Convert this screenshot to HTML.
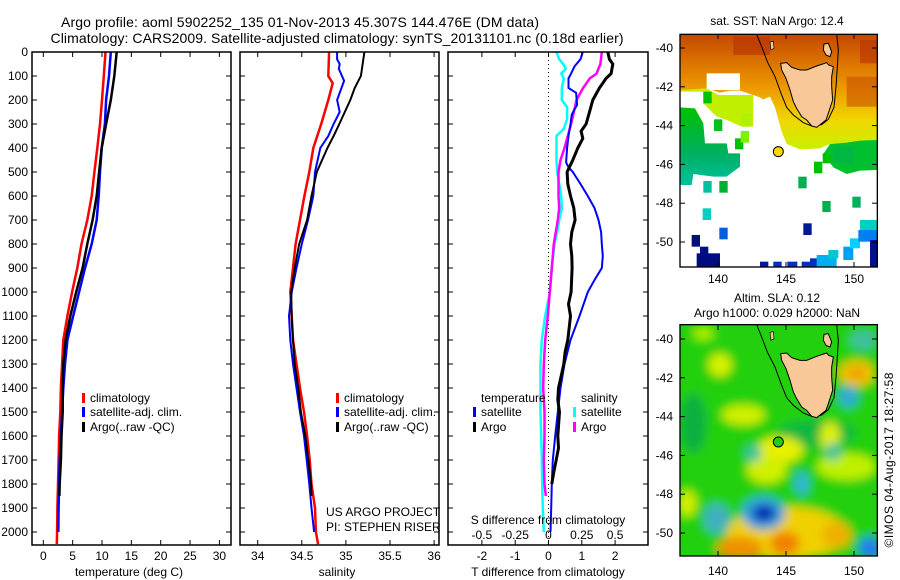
<!DOCTYPE html>
<html><head><meta charset="utf-8"><style>
html,body{margin:0;padding:0;background:#fff;}
svg{display:block;font-family:"Liberation Sans",Arial,sans-serif;}
</style></head><body>
<svg id="fig" width="900" height="580" viewBox="0 0 900 580" xmlns="http://www.w3.org/2000/svg">
<defs>
<clipPath id="clipTop"><rect x="60" y="43" width="592" height="698"/></clipPath>
<clipPath id="clipBot"><rect x="60" y="104" width="592" height="694"/></clipPath>
<linearGradient id="warm" x1="0" y1="43" x2="0" y2="390" gradientUnits="userSpaceOnUse">
<stop offset="0" stop-color="#c44800"/><stop offset="0.25" stop-color="#dc7400"/><stop offset="0.5" stop-color="#eea000"/><stop offset="0.75" stop-color="#f0d800"/><stop offset="1" stop-color="#c8f000"/></linearGradient>
<linearGradient id="westgreen" x1="0" y1="260" x2="0" y2="495" gradientUnits="userSpaceOnUse">
<stop offset="0" stop-color="#00c000"/><stop offset="0.6" stop-color="#00b060"/><stop offset="1" stop-color="#00c0a0"/></linearGradient>
<filter id="blur" x="-20%" y="-20%" width="140%" height="140%"><feGaussianBlur stdDeviation="14"/></filter>
</defs>
<rect x="0" y="0" width="900" height="580" fill="#fff"/>

<text x="300" y="27" font-size="14" text-anchor="middle" textLength="478">Argo profile: aoml 5902252_135 01-Nov-2013 45.307S 144.476E (DM data)</text>
<text x="337" y="43" font-size="14" text-anchor="middle" textLength="573">Climatology: CARS2009. Satellite-adjusted climatology: synTS_20131101.nc (0.18d earlier)</text>

<g id="p1"></g>
<g id="p2"></g>
<g id="p3"></g>

<g font-size="12">
<rect x="82" y="393" width="3" height="10" fill="#f00"/><text x="90" y="402">climatology</text>
<rect x="82" y="407" width="3" height="10" fill="#00f"/><text x="90" y="416">satellite-adj. clim.</text>
<rect x="82" y="422" width="3" height="10" fill="#000"/><text x="90" y="431">Argo(..raw -QC)</text>
</g>
<g font-size="12">
<rect x="336" y="393" width="3" height="10" fill="#f00"/><text x="344" y="402">climatology</text>
<rect x="336" y="407" width="3" height="10" fill="#00f"/><text x="344" y="416">satellite-adj. clim.</text>
<rect x="336" y="422" width="3" height="10" fill="#000"/><text x="344" y="431">Argo(..raw -QC)</text>
</g>
<text x="326" y="516" font-size="12">US ARGO PROJECT</text>
<text x="326" y="531" font-size="12">PI: STEPHEN RISER</text>
<g font-size="12">
<text x="481" y="402">temperature</text>
<rect x="473" y="407" width="3" height="10" fill="#00f"/><text x="481" y="416">satellite</text>
<rect x="473" y="422" width="3" height="10" fill="#000"/><text x="481" y="431">Argo</text>
<text x="581" y="402">salinity</text>
<rect x="573" y="407" width="3" height="10" fill="#0ff"/><text x="581" y="416">satellite</text>
<rect x="573" y="422" width="3" height="10" fill="#f0f"/><text x="581" y="431">Argo</text>
</g>
<text x="548" y="524" font-size="12" text-anchor="middle">S difference from climatology</text>

<g transform="translate(660,20) scale(0.33333)">
 <g clip-path="url(#clipTop)">
  <rect x="60" y="43" width="592" height="698" fill="#fff"/>
  <polygon fill="url(#warm)" points="60,43 652,43 652,365 600,365 560,368 510,372 480,385 420,388 380,372 362,335 340,262 300,232 240,212 210,212 180,218 140,205 60,212"/>
  <rect x="220" y="50" width="110" height="55" fill="#b83000" opacity="0.6"/>
  <rect x="560" y="170" width="90" height="90" fill="#c04000" opacity="0.5"/>
  <rect x="600" y="60" width="52" height="70" fill="#b83000" opacity="0.6"/>
  <rect x="140" y="160" width="100" height="50" fill="#fff"/>
  <polygon fill="#c0f000" points="60,210 140,205 175,225 280,225 280,320 245,320 200,300 170,290 130,250 60,260"/>
  <rect x="60" y="215" width="70" height="45" fill="#fff"/>
  <polygon fill="#fff" points="170,290 200,300 240,320 280,320 280,250 330,230 345,262 365,335 380,372 420,390 480,390 480,380 480,440 300,500 250,480 240,400 205,400 200,370 135,370 130,310"/>
  <polygon fill="url(#westgreen)" points="60,262 105,265 130,310 135,370 200,370 205,400 240,400 240,440 200,470 160,470 100,462 95,495 60,495"/>
  <polygon fill="#00c030" points="510,372 560,368 600,362 652,360 652,450 600,452 560,462 520,442 490,402"/>
  <rect x="520" y="380" width="60" height="50" fill="#00b050" opacity="0.6"/>
  <g id="sqs"></g>
 </g>
 <polyline fill="none" stroke="#000" stroke-width="3" points="290,43 305,80 322,125 345,170 365,225 380,262 400,285 430,308 455,318 485,314 505,298 522,262 528,200 532,140 535,90 530,43"/>
 <g id="tasTop"></g>
 <circle cx="355" cy="395" r="15" fill="#f5d800" stroke="#000" stroke-width="3"/>
 <rect x="60" y="43" width="592" height="698" fill="none" stroke="#000" stroke-width="4"/>
</g>

<g transform="translate(660,290) scale(0.33333)">
 <g clip-path="url(#clipBot)">
  <rect x="60" y="104" width="592" height="694" fill="#20d010"/>
  <g filter="url(#blur)">
   <rect x="60" y="104" width="592" height="694" fill="#20d010"/>
   <ellipse cx="100" cy="400" rx="40" ry="90" fill="#10b040"/>
   <ellipse cx="470" cy="430" rx="120" ry="40" fill="#10b840"/>
   <ellipse cx="180" cy="225" rx="35" ry="35" fill="#d8f000"/>
   <ellipse cx="130" cy="130" rx="30" ry="20" fill="#b0f000"/>
   <ellipse cx="250" cy="375" rx="65" ry="30" fill="#d0f000"/>
   <ellipse cx="360" cy="480" rx="70" ry="40" fill="#e8f000"/>
   <ellipse cx="320" cy="540" rx="60" ry="40" fill="#d0f000"/>
   <ellipse cx="510" cy="440" rx="30" ry="45" fill="#e0f000"/>
   <ellipse cx="590" cy="250" rx="55" ry="40" fill="#f0c000"/>
   <ellipse cx="590" cy="250" rx="20" ry="15" fill="#f09000"/>
   <ellipse cx="560" cy="530" rx="90" ry="40" fill="#c0f000"/>
   <ellipse cx="80" cy="640" rx="30" ry="40" fill="#d0f000"/>
   <ellipse cx="380" cy="730" rx="180" ry="80" fill="#f0d000"/>
   <ellipse cx="240" cy="775" rx="70" ry="35" fill="#f09000"/>
   <ellipse cx="375" cy="760" rx="45" ry="35" fill="#f08000"/>
   <ellipse cx="530" cy="735" rx="45" ry="40" fill="#f0b000"/>
   <ellipse cx="310" cy="670" rx="65" ry="50" fill="#30a0e0"/>
   <ellipse cx="312" cy="670" rx="35" ry="25" fill="#0020b0"/>
   <ellipse cx="425" cy="580" rx="20" ry="35" fill="#30b0e0"/>
   <ellipse cx="565" cy="320" rx="28" ry="32" fill="#30a8d8"/>
   <ellipse cx="520" cy="485" rx="22" ry="28" fill="#40c0a0"/>
   <ellipse cx="170" cy="685" rx="40" ry="45" fill="#40b0c0"/>
   <ellipse cx="630" cy="775" rx="35" ry="35" fill="#2080f0"/>
   <ellipse cx="610" cy="150" rx="40" ry="30" fill="#40c0a0"/>
   <ellipse cx="280" cy="490" rx="25" ry="25" fill="#40c0a0"/>
  </g>
 </g>
 <polyline fill="none" stroke="#000" stroke-width="3" transform="translate(0,61)" points="290,43 305,80 322,125 345,170 365,225 380,262 400,285 430,308 455,318 485,314 505,298 522,262 528,200 532,140 535,90 530,43"/>
 <g id="tasBot" transform="translate(0,61)"></g>
 <circle cx="355" cy="456" r="15" fill="#20d010" stroke="#000" stroke-width="3"/>
 <rect x="60" y="104" width="592" height="694" fill="none" stroke="#000" stroke-width="4"/>
</g>

<g id="mapaxes" font-size="12"></g>
<text x="777" y="25" font-size="12" text-anchor="middle">sat. SST: NaN Argo: 12.4</text>
<text x="777" y="302" font-size="12" text-anchor="middle">Altim. SLA: 0.12</text>
<text x="777" y="317" font-size="12" text-anchor="middle">Argo h1000: 0.029 h2000: NaN</text>
<text x="0" y="0" font-size="12" text-anchor="middle" transform="translate(893,460) rotate(-90)" textLength="175">©IMOS 04-Aug-2017 18:27:58</text>
</svg>

<script>
// ---------- DATA ----------
var depthTicks = [0,100,200,300,400,500,600,700,800,900,1000,1100,1200,1300,1400,1500,1600,1700,1800,1900,2000];
var tempTicks = [0,5,10,15,20,25,30];
var salTicks = [34,34.5,35,35.5,36];
var tdiffTicks = [-2,-1,0,1,2];
var sdiffTickLabels = ["-0.5","-0.25","0","0.25","0.5"];
var sdiffTicks = [-0.5,-0.25,0,0.25,0.5];

var climTDepth = [0,100,200,300,400,500,600,700,800,900,1000,1100,1200,1300,1400,1500,1600,1700,1800,1900,2000,2050];
var climT = [10.6,10.3,10.0,9.66,9.2,8.7,8.25,7.5,6.5,5.8,4.9,4.1,3.4,3.2,3.0,2.9,2.7,2.6,2.5,2.4,2.35,2.3];
var satTDepth = [0,100,200,300,400,500,600,700,800,900,1000,1100,1200,1300,1400,1500,1600,1700,1800,1900,2000];
var satT = [11.5,11.2,10.7,10.5,9.95,9.66,9.44,9.1,8.25,7.1,6.1,5.1,4.1,3.7,3.4,3.2,3.0,2.8,2.7,2.6,2.55];
var argoTDepth = [0,100,200,300,400,500,600,700,800,900,1000,1100,1200,1300,1400,1500,1600,1700,1800,1850];
var argoT = [12.5,12.1,11.5,10.7,9.95,9.5,9.1,8.4,7.5,6.7,5.6,4.6,3.8,3.4,3.3,3.3,3.1,3.0,2.8,2.75];

var climSDepth = [0,100,130,200,300,400,500,600,700,800,900,1000,1100,1200,1300,1400,1500,1600,1700,1800,1900,2000,2050];
var climS = [34.81,34.80,34.85,34.80,34.72,34.63,34.585,34.53,34.48,34.43,34.40,34.37,34.385,34.40,34.44,34.48,34.525,34.56,34.59,34.61,34.65,34.66,34.685];
var satSDepth = [0,30,50,70,120,200,250,300,350,400,500,600,700,800,900,1000,1100,1200,1300,1400,1500,1600,1700,1800,1900,2000];
var satS = [34.90,34.90,34.93,34.92,34.98,34.90,34.93,34.86,34.80,34.71,34.65,34.63,34.57,34.50,34.44,34.385,34.355,34.37,34.40,34.44,34.48,34.525,34.555,34.585,34.61,34.64];
var argoSDepth = [0,100,150,200,300,350,400,500,600,700,800,900,1000,1100,1200,1300,1400,1500,1600,1700,1800,1850];
var argoS = [35.21,35.17,35.10,35.05,34.925,34.86,34.79,34.67,34.61,34.56,34.47,34.42,34.38,34.385,34.40,34.42,34.46,34.49,34.54,34.575,34.605,34.61];

var satTdiffDepth = [0,30,60,90,110,150,170,220,260,300,350,400,460,480,500,550,600,650,700,750,800,850,900,950,1000,1100,1200,1300,1400,1500,1600,1700,1800,1900,2000];
var satTdiff = [1.03,0.96,0.78,0.68,0.6,0.6,0.83,0.86,0.7,0.66,0.6,0.56,0.53,0.6,0.73,0.96,1.18,1.38,1.5,1.58,1.6,1.63,1.6,1.38,1.18,0.93,0.66,0.48,0.36,0.28,0.2,0.13,0.1,0.08,0.06];
var argoTdiffDepth = [0,30,50,90,110,150,200,250,300,330,360,400,450,500,550,600,650,700,750,800,850,900,1000,1050,1100,1200,1250,1300,1350,1400,1450,1500,1600,1650,1700,1750,1800];
var argoTdiff = [1.78,1.83,1.93,1.88,1.73,1.53,1.33,1.23,1.13,0.98,1.03,0.88,0.73,0.56,0.58,0.66,0.76,0.8,0.7,0.66,0.7,0.71,0.68,0.6,0.66,0.58,0.5,0.46,0.38,0.3,0.28,0.33,0.28,0.3,0.23,0.16,0.1];
var argoSdiffDepth = [0,50,90,110,150,200,250,300,350,400,450,500,600,650,700,800,900,1000,1100,1200,1300,1400,1500,1600,1700,1800,1850];
var argoSdiff = [0.40,0.39,0.36,0.31,0.26,0.21,0.19,0.17,0.145,0.12,0.09,0.075,0.075,0.08,0.07,0.04,0.025,0.01,-0.005,-0.025,-0.035,-0.04,-0.03,-0.03,-0.035,-0.03,-0.02];
var satSdiffDepth = [0,30,50,70,90,110,150,200,230,280,320,350,400,450,500,600,650,700,750,800,900,1000,1100,1200,1300,1400,1500,1600,1700,1800,1900,2000];
var satSdiff = [0.06,0.08,0.11,0.13,0.095,0.115,0.10,0.10,0.14,0.14,0.115,0.06,0.06,0.06,0.065,0.095,0.10,0.08,0.065,0.045,0.025,0.01,-0.025,-0.05,-0.06,-0.06,-0.06,-0.055,-0.05,-0.0475,-0.0425,-0.035];

var mapLats = [-40,-42,-44,-46,-48,-50];
var mapLons = [140,145,150];

// SST map squares
var sqX = [130,162,225,242,245,462,488,415,178,130,128,487,577,178,430,95,120,110,300,340,382,425,450,470,505,550,570,595,600,630];
var sqY = [215,298,355,333,280,425,400,470,483,483,565,543,530,623,610,645,680,700,725,725,725,725,715,705,690,680,655,630,600,660];
var sqW = [25,25,25,25,30,25,25,25,25,25,25,25,25,25,25,25,25,70,25,25,30,25,50,60,30,30,30,57,50,22];
var sqH = [35,35,33,35,40,35,30,35,35,35,35,33,33,35,35,35,35,40,15,15,15,15,25,35,25,40,30,35,30,80];
var sqC = ["#00c000","#00c020","#00c000","#80f000","#b0f000","#00c000","#00c000","#00b050","#00b030","#00c0a0","#00d0c0","#00b050","#00b060","#0060e0","#001890","#001080","#001080","#000c80","#0018a0","#0030c0","#0030c0","#0030c0","#0030c0","#00b0f0","#00c8d0","#00a0f0","#00d0ff","#0080f0","#00d0c0","#001090"];

// ---------- SCALES ----------
var NS = "http://www.w3.org/2000/svg";
var TOP = 52, BOT = 545;
function yD(d){ return 52 + 0.24*d; }
function xT(t){ return 43.3 + 5.87*t; }
function xS(s){ return 257.7 + 88.2*(s-34); }
function xTd(t){ return 548.5 + 33.3*t; }
function xSd(s){ return 548.5 + 133.2*s; }
function mLon(lon){ return 718 + 13.6*(lon-140); }
function mLat(lat, top){ return top + 19.4*(-40-lat); }

function mk(tag, attrs, parent){
  var e = document.createElementNS(NS, tag);
  for (var k in attrs) e.setAttribute(k, attrs[k]);
  parent.appendChild(e); return e;
}
function series(parent, xs, ds, fx, color, w, name){
  var pts = [];
  for (var i=0;i<xs.length;i++) pts.push(fx(xs[i]).toFixed(1)+","+yD(ds[i]).toFixed(1));
  var p = mk("polyline", {points: pts.join(" "), fill:"none", stroke:color, "stroke-width":w}, parent);
  
  
  return p;
}
function frame(g, x0, x1, xticks, fx, name){
  var r = mk("rect", {x:x0, y:TOP, width:x1-x0, height:BOT-TOP, fill:"none", stroke:"#000", "stroke-width":1.5}, g);
  
  
  for (var i=0;i<depthTicks.length;i++){
    var y = yD(depthTicks[i]);
    mk("line",{x1:x0,x2:x0+5,y1:y,y2:y,stroke:"#000"},g);
    mk("line",{x1:x1-5,x2:x1,y1:y,y2:y,stroke:"#000"},g);
  }
  for (var j=0;j<xticks.length;j++){
    var x = fx(xticks[j]);
    mk("line",{x1:x,x2:x,y1:TOP,y2:TOP+5,stroke:"#000"},g);
    mk("line",{x1:x,x2:x,y1:BOT-5,y2:BOT,stroke:"#000"},g);
  }
}
function ticklabels(g, ticks, fx, labels, y, name){
  for (var i=0;i<ticks.length;i++){
    var t = mk("text",{x:fx(ticks[i]), y:y, "font-size":12, "text-anchor":"middle"}, g);
    t.textContent = labels ? labels[i] : String(ticks[i]);
    
    
  }
}

// Panel 1
var p1 = document.getElementById("p1");
series(p1, climT, climTDepth, xT, "#f00", 2.5, "temperature-climatology-line");
series(p1, satT, satTDepth, xT, "#00f", 2.5, "temperature-satellite-line");
series(p1, argoT, argoTDepth, xT, "#000", 2.5, "temperature-argo-line");
frame(p1, 32, 231, tempTicks, xT, "temperature-axes-frame");
ticklabels(p1, tempTicks, xT, null, 560, "temperature-tick-label");
for (var i=0;i<depthTicks.length;i++){
  var t = mk("text",{x:28, y:yD(depthTicks[i])+4, "font-size":12, "text-anchor":"end"}, p1);
  t.textContent = String(depthTicks[i]);
  
  
}
var xl1 = mk("text",{x:129, y:576, "font-size":12, "text-anchor":"middle"}, p1);
xl1.textContent = "temperature (deg C)";



// Panel 2
var p2 = document.getElementById("p2");
series(p2, climS, climSDepth, xS, "#f00", 2.5, "salinity-climatology-line");
series(p2, satS, satSDepth, xS, "#00f", 2, "salinity-satellite-line");
series(p2, argoS, argoSDepth, xS, "#000", 2, "salinity-argo-line");
frame(p2, 240, 439, salTicks, xS, "salinity-axes-frame");
ticklabels(p2, salTicks, xS, null, 560, "salinity-tick-label");
var xl2 = mk("text",{x:337, y:576, "font-size":12, "text-anchor":"middle"}, p2);
xl2.textContent = "salinity";



// Panel 3
var p3 = document.getElementById("p3");
var z = mk("line",{x1:xTd(0),x2:xTd(0),y1:TOP,y2:BOT,stroke:"#000","stroke-dasharray":"1,3"},p3);


series(p3, satSdiff, satSdiffDepth, xSd, "#0ff", 2.5, "salinity-satellite-difference-line");
series(p3, argoSdiff, argoSdiffDepth, xSd, "#f0f", 2.5, "salinity-argo-difference-line");
series(p3, satTdiff, satTdiffDepth, xTd, "#00f", 2, "temperature-satellite-difference-line");
series(p3, argoTdiff, argoTdiffDepth, xTd, "#000", 3, "temperature-argo-difference-line");
frame(p3, 448, 648, tdiffTicks, xTd, "difference-axes-frame");
ticklabels(p3, tdiffTicks, xTd, null, 560, "t-difference-tick-label");
ticklabels(p3, sdiffTicks, xSd, sdiffTickLabels, 539, "s-difference-tick-label");
var xl3 = mk("text",{x:548, y:576, "font-size":12, "text-anchor":"middle"}, p3);
xl3.textContent = "T difference from climatology";



// SST squares
var sqs = document.getElementById("sqs");
for (var i=0;i<sqX.length;i++){
  var r = mk("rect",{x:sqX[i],y:sqY[i],width:sqW[i],height:sqH[i],fill:sqC[i]},sqs);
  
  
}

// Tasmania
var tasPts = "362,130 380,128 395,142 420,150 440,150 470,138 500,128 506,135 520,140 515,170 515,200 518,240 505,280 498,300 470,322 455,318 440,300 425,290 410,265 400,245 390,210 378,175 365,150";
["tasTop","tasBot"].forEach(function(id){
  var g = document.getElementById(id);
  var p = mk("polygon",{points:tasPts, fill:"#f8c898", stroke:"#000", "stroke-width":3},g);
  
  
  var f = mk("polygon",{points:"492,72 505,70 515,95 510,110 498,105 490,90", fill:"#f8c898", stroke:"#000", "stroke-width":3},g);
  
  
  var k = mk("polygon",{points:"330,66 340,64 342,85 333,90", fill:"#f8c898", stroke:"#000", "stroke-width":2},g);
  
  
});

// Map axes
var ma = document.getElementById("mapaxes");
[[34,267,283],[325,556,575]].forEach(function(m){
  var top = m[0], bot = m[1];
  for (var i=0;i<mapLats.length;i++){
    var y = mLat(mapLats[i], top+14);
    mk("line",{x1:680,x2:685,y1:y,y2:y,stroke:"#000"},ma);
    mk("line",{x1:872,x2:877,y1:y,y2:y,stroke:"#000"},ma);
    var t = mk("text",{x:673,y:y+4,"text-anchor":"end","font-size":12},ma);
    t.textContent = String(mapLats[i]);
    
    
  }
  for (var j=0;j<mapLons.length;j++){
    var x = mLon(mapLons[j]);
    mk("line",{x1:x,x2:x,y1:top,y2:top+5,stroke:"#000"},ma);
    mk("line",{x1:x,x2:x,y1:bot-5,y2:bot,stroke:"#000"},ma);
    var t2 = mk("text",{x:x,y:m[2],"text-anchor":"middle","font-size":12},ma);
    t2.textContent = String(mapLons[j]);
    
    
  }
});
</script>
</body></html>
